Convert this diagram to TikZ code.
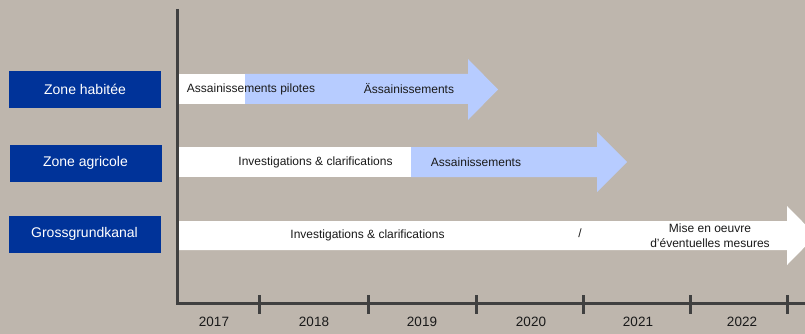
\documentclass[tikz,border=0pt]{standalone}
\usepackage{fontspec}
\setmainfont{Liberation Sans}
\usetikzlibrary{positioning}
\definecolor{bggray}{RGB}{190,182,173}
\definecolor{zoneblue}{RGB}{0,51,153}
\definecolor{phaseblue}{RGB}{183,204,255}
\definecolor{axisgray}{RGB}{64,64,64}
\definecolor{txtgray}{RGB}{26,26,26}

\begin{document}
\begin{tikzpicture}[
    x=1pt,
    y=-1pt,
    zone/.style={
      fill=zoneblue,
      text=white,
      minimum width=152pt,
      minimum height=37pt,
      inner sep=0pt,
      font=\fontsize{14}{16}\selectfont
      },
    phase/.style={
      inner sep=0pt,
      text=txtgray,
      align=center,
      font=\fontsize{12}{15}\selectfont
      },
    year/.style={
      inner sep=0pt,
      text=txtgray,
      font=\fontsize{13.5}{15}\selectfont
      },
    axis/.style={
      draw=axisgray,
      line width=3pt
      }
    ]
    \fill[bggray] (0,0) rectangle (805,334);
    \useasboundingbox (0,0) rectangle (805,334);

    % row labels
    \node[zone] (habitee) at (85,89.5) {Zone habitée};
    \node[zone] (agricole) at (85.5,163) {Zone agricole};
    \node[zone] (kanal) at (84.5,234) {Grossgrundkanal};

    % bands
    \fill[white] (179,74) rectangle (245,104);
    \fill[phaseblue] (245,74) -- (468,74) -- (468,59) -- (498,89.5)
      -- (468,120) -- (468,104) -- (245,104) -- cycle;
    \fill[white] (179,147) rectangle (411,177);
    \fill[phaseblue] (411,147) -- (597,147) -- (597,132) -- (627,162)
      -- (597,192) -- (597,177) -- (411,177) -- cycle;
    \begin{scope}
      \clip (0,0) rectangle (805,334);
      \fill[white] (179,221) -- (787,221) -- (787,206) -- (816,235.5)
        -- (787,265) -- (787,250) -- (179,250) -- cycle;
    \end{scope}

    % phase texts
    \node[phase] (pilotes) at (251,89) {Assainissements pilotes};
    \node[phase] (assain1) at (409,89) {Ässainissements};
    \node[phase] (invest1) at (315.5,162) {Investigations \& clarifications};
    \node[phase] (assain2) at (476,162) {Assainissements};
    \node[phase] (invest2) at (367.5,235) {Investigations \& clarifications};
    \node[phase] (slash) at (580,233) {/};
    \node[phase] (mesures) at (710,235.5) {Mise en oeuvre\\d'éventuelles mesures};

    % axes
    \coordinate (top) at (177.5,9);
    \coordinate (origin) at (177.5,303);
    \coordinate (right) at (805,303);
    \draw[axis] (top) -- (origin) -- (right);
    \foreach \tx in {259,368,476,583,690,787}
      \draw[axis] (\tx,295) -- (\tx,314);
    \foreach \yr/\yx in {2017/214,2018/314,2019/422,2020/531,2021/638,2022/742}
      \node[year] (y\yr) at (\yx,322) {\yr};
\end{tikzpicture}
\end{document}
